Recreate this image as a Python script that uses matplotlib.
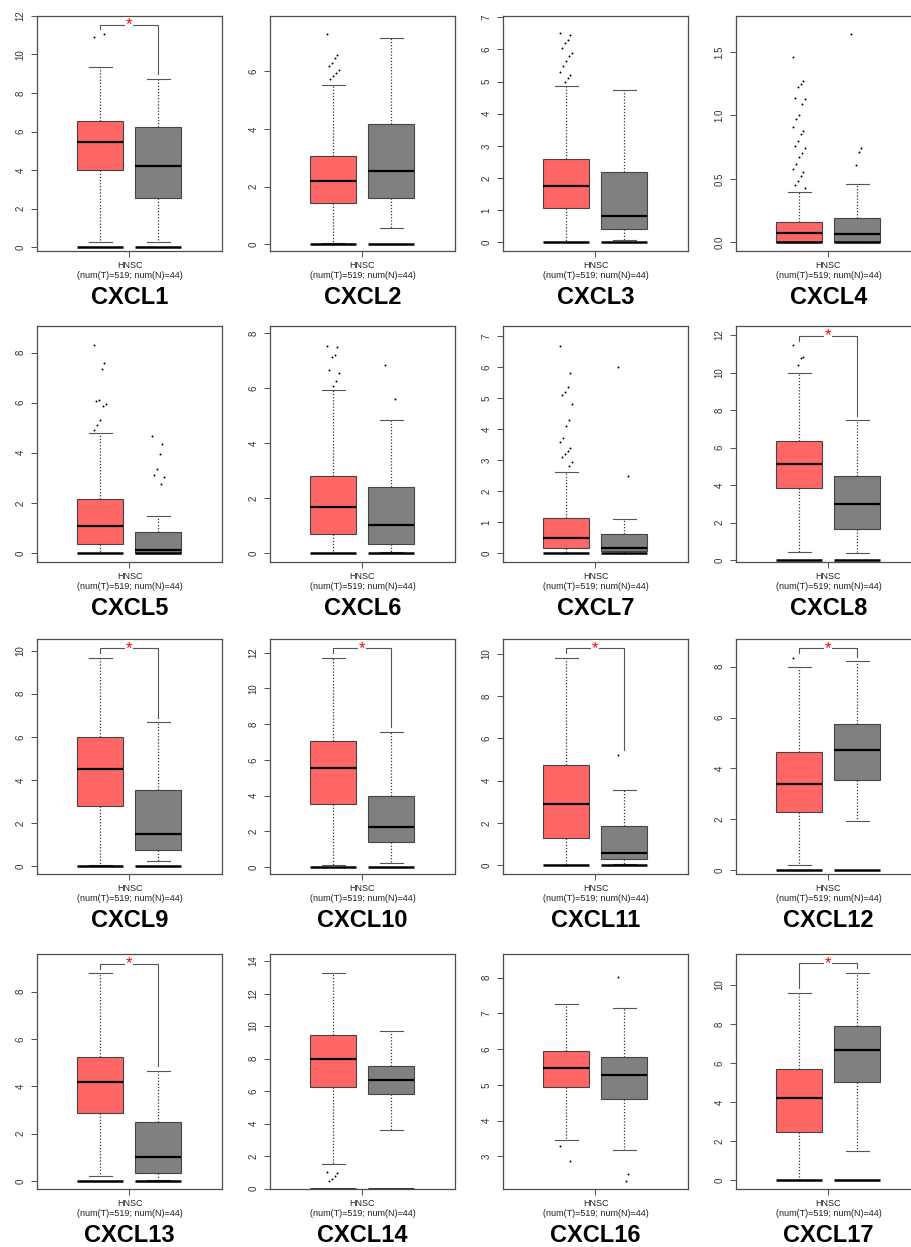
import matplotlib
matplotlib.use('Agg')
import matplotlib.pyplot as plt
import numpy as np

plt.rcParams['font.family'] = ['Liberation Sans', 'DejaVu Sans']

genes = ['CXCL1', 'CXCL2', 'CXCL3', 'CXCL4',
         'CXCL5', 'CXCL6', 'CXCL7', 'CXCL8',
         'CXCL9', 'CXCL10', 'CXCL11', 'CXCL12',
         'CXCL13', 'CXCL14', 'CXCL16', 'CXCL17']
cohort = 'HNSC'
counts = '(num(T)=519; num(N)=44)'

# box stats per gene: lower whisker, Q1, median, Q3, upper whisker
tumor_box = [
    (0.26, 4.03, 5.46, 6.56, 9.33), (0.06, 1.42, 2.20, 3.08, 5.53),
    (0.00, 1.07, 1.75, 2.58, 4.87), (0.00, 0.00, 0.071, 0.163, 0.40),
    (0.00, 0.35, 1.06, 2.14, 4.78), (0.00, 0.70, 1.66, 2.80, 5.92),
    (0.00, 0.15, 0.48, 1.14, 2.63), (0.43, 3.87, 5.12, 6.33, 9.96),
    (0.06, 2.78, 4.53, 5.98, 9.68), (0.11, 3.53, 5.52, 7.05, 11.72),
    (0.00, 1.31, 2.91, 4.72, 9.81), (0.18, 2.28, 3.37, 4.63, 8.00),
    (0.23, 2.89, 4.17, 5.24, 8.77), (1.54, 6.23, 7.99, 9.45, 13.24),
    (3.47, 4.94, 5.46, 5.95, 7.27), (0.00, 2.46, 4.23, 5.68, 9.61),
]
normal_box = [
    (0.26, 2.56, 4.22, 6.23, 8.74), (0.58, 1.61, 2.53, 4.17, 7.17),
    (0.07, 0.43, 0.82, 2.18, 4.73), (0.00, 0.00, 0.063, 0.19, 0.457),
    (0.00, 0.00, 0.13, 0.84, 1.46), (0.02, 0.33, 1.03, 2.42, 4.86),
    (0.00, 0.06, 0.16, 0.60, 1.10), (0.39, 1.68, 3.00, 4.49, 7.45),
    (0.25, 0.73, 1.50, 3.52, 6.68), (0.24, 1.38, 2.26, 3.96, 7.56),
    (0.05, 0.28, 0.57, 1.84, 3.57), (1.93, 3.54, 4.73, 5.73, 8.21),
    (0.05, 0.35, 1.00, 2.49, 4.65), (3.61, 5.84, 6.70, 7.56, 9.67),
    (3.19, 4.60, 5.29, 5.77, 7.16), (1.50, 5.05, 6.66, 7.90, 10.63),
]
# points outside the whiskers
tumor_out = [
    [10.9, 11.05],
    [7.29, 6.55, 6.45, 6.3, 6.2, 6.05, 5.95, 5.85, 5.75],
    [6.5, 6.45, 6.3, 6.2, 6.05, 5.9, 5.8, 5.65, 5.5, 5.3, 5.2, 5.1, 5.0],
    [1.46, 1.27, 1.25, 1.22, 1.14, 1.13, 1.09, 1.0, 0.97, 0.91, 0.88, 0.85,
     0.80, 0.76, 0.74, 0.70, 0.67, 0.62, 0.58, 0.55, 0.52, 0.48, 0.45, 0.43],
    [8.3, 7.6, 7.35, 6.1, 6.05, 5.95, 5.85, 5.3, 5.1, 4.9],
    [7.55, 7.5, 7.2, 7.15, 6.65, 6.55, 6.25, 6.1],
    [6.7, 5.8, 5.35, 5.2, 5.1, 4.8, 4.3, 4.1, 3.7, 3.6, 3.4, 3.3, 3.2, 3.1, 2.95, 2.8],
    [11.45, 10.85, 10.75, 10.4],
    [], [], [],
    [8.35],
    [],
    [1.0, 0.95, 0.75, 0.6, 0.5],
    [3.3, 2.87],
    [],
]
normal_out = [
    [], [], [], [1.64, 0.74, 0.71, 0.61],
    [4.68, 4.35, 3.95, 3.35, 3.1, 3.05, 2.75],
    [6.85, 5.6],
    [6.0, 2.48],
    [], [], [],
    [5.21],
    [], [], [],
    [8.02, 2.51, 2.32],
    [],
]
significant = [True, False, False, False,
               False, False, False, True,
               True, True, True, True,
               True, False, False, True]
y_ticks = [
    [0, 2, 4, 6, 8, 10, 12], [0, 2, 4, 6], [0, 1, 2, 3, 4, 5, 6, 7], [0.0, 0.5, 1.0, 1.5],
    [0, 2, 4, 6, 8], [0, 2, 4, 6, 8], [0, 1, 2, 3, 4, 5, 6, 7], [0, 2, 4, 6, 8, 10, 12],
    [0, 2, 4, 6, 8, 10], [0, 2, 4, 6, 8, 10, 12], [0, 2, 4, 6, 8, 10], [0, 2, 4, 6, 8],
    [0, 2, 4, 6, 8], [0, 2, 4, 6, 8, 10, 12, 14], [3, 4, 5, 6, 7, 8], [0, 2, 4, 6, 8, 10],
]

# axis ranges (layout)
y_limits = [
    (-0.17, 11.96), (-0.22, 7.93), (-0.26, 7.05), (-0.066, 1.785),
    (-0.36, 9.06), (-0.33, 8.27), (-0.29, 7.33), (-0.09, 12.48),
    (-0.36, 10.54), (-0.39, 12.76), (-0.41, 10.69), (-0.16, 9.09),
    (-0.34, 9.59), (-0.02, 14.43), (2.09, 8.66), (-0.44, 11.59),
]

W, H = 911, 1247
fig = plt.figure(figsize=(W / 100, H / 100), dpi=100)

col_left = [37, 270, 503, 736]
row_top = [15.7, 326, 639, 954]
row_bot = [250.7, 562, 874, 1189]
pw = 185

t_col = '#FF6666'
n_col = '#808080'
bw = 0.79

for i, g in enumerate(genes):
    r, c = divmod(i, 4)
    left = col_left[c]
    top, bot = row_top[r], row_bot[r]
    ax = fig.add_axes([left / W, 1 - bot / H, pw / W, (bot - top) / H])
    ax.set_xlim(-0.086, 3.10)
    ax.set_ylim(*y_limits[i])

    for pos, st, colr, out in [(1, tumor_box[i], t_col, tumor_out[i]),
                               (2, normal_box[i], n_col, normal_out[i])]:
        stats = [dict(whislo=st[0], q1=st[1], med=st[2], q3=st[3], whishi=st[4], fliers=[])]
        ax.bxp(stats, positions=[pos], widths=bw, patch_artist=True, showfliers=False,
               capwidths=bw / 2,
               boxprops=dict(facecolor=colr, edgecolor='#444444', lw=0.8),
               whiskerprops=dict(color='#333333', ls=(0, (1, 1.5)), lw=0.9),
               capprops=dict(color='#555555', lw=0.8),
               medianprops=dict(color='black', lw=1.6))
        if y_limits[i][0] <= 0:
            ax.hlines(0, pos - bw / 2, pos + bw / 2, color='black', lw=1.8, zorder=4)
        if out:
            k = np.arange(len(out))
            xs = pos + ((k * 7) % 9 - 4) * 0.025
            ax.scatter(xs, out, s=2.0, c='black', linewidths=0, zorder=5)

    if significant[i]:
        lo, hi = y_limits[i]
        span = hi - lo
        t_max = max([tumor_box[i][4]] + tumor_out[i])
        n_max = max([normal_box[i][4]] + normal_out[i])
        bar = max(t_max, n_max) + 0.04 * span
        ax.plot([1, 1, 2, 2], [t_max + 0.02 * span, bar, bar, n_max + 0.02 * span],
                color='#555555', lw=0.8, zorder=3)
        ax.text(1.5, bar, '*', color='red', ha='center', va='center', fontsize=12,
                zorder=6, bbox=dict(facecolor='white', edgecolor='none', pad=0.5))

    ax.set_yticks(y_ticks[i])
    if i == 3:
        ax.set_yticklabels(['%.1f' % v for v in y_ticks[i]])
    else:
        ax.set_yticklabels([str(v) for v in y_ticks[i]])
    ax.tick_params(axis='y', labelsize=7, length=4.3, width=0.6, pad=4,
                   colors='#333333', labelrotation=90)
    for lab in ax.get_yticklabels():
        lab.set_va('center')
    ax.set_xticks([1.5])
    ax.set_xticklabels([''])
    ax.tick_params(axis='x', length=4.3, width=0.6, colors='#333333')
    for sp in ax.spines.values():
        sp.set_color('#4d4d4d')
        sp.set_linewidth(0.9)

    cx = (left + pw / 2) / W
    fig.text(cx, 1 - (bot + 14.3) / H, cohort, ha='center', va='center', fontsize=6.5,
             color='#222222')
    fig.text(cx, 1 - (bot + 24.6) / H, counts, ha='center', va='center', fontsize=6.5,
             color='#222222')
    fig.text(cx, 1 - (bot + 46.5) / H, g, ha='center', va='center', fontsize=17,
             fontweight='bold')

fig.savefig('out.png', dpi=100)
